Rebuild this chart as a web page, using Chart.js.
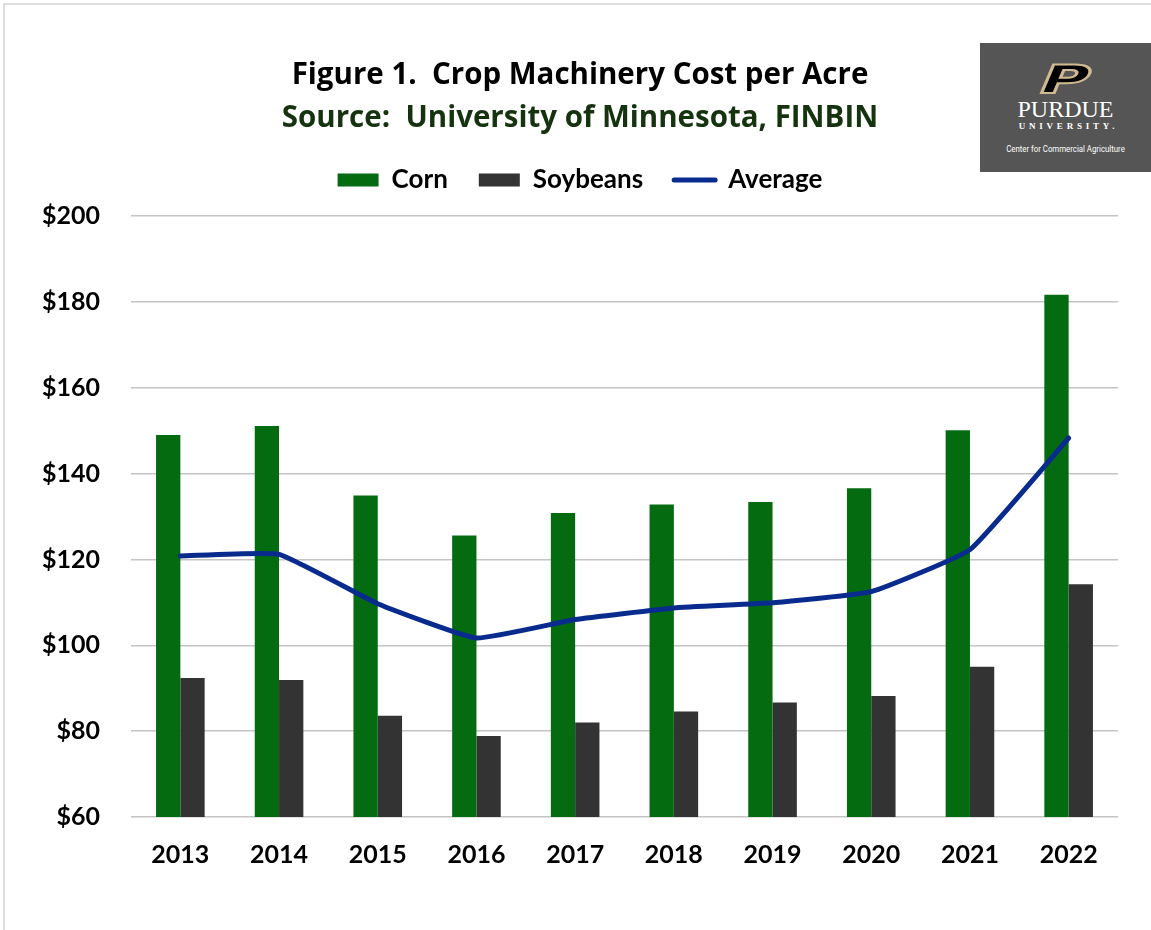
<!DOCTYPE html>
<html>
<head>
<meta charset="utf-8">
<script src="https://cdn.jsdelivr.net/npm/chart.js@4.4.1/dist/chart.umd.min.js"></script>
<style>
  html, body { margin: 0; padding: 0; background: #ffffff; }
  #wrap { position: relative; width: 1151px; height: 930px; overflow: hidden; background: #fff; }
  #frame { position: absolute; left: 3px; top: 3px; width: 1300px; height: 1100px;
           border-left: 2px solid #dedede; border-top: 2px solid #dedede; }
  #chart { position: absolute; left: 0; top: 0; }
  #logo { position: absolute; left: 980px; top: 43px; width: 171px; height: 129px; background: #555555; overflow: hidden; }
  #logo .p { position: absolute; left: 0; width: 171px; top: 17px; text-align: center;
             font-family: "DejaVu Sans", sans-serif; font-weight: bold; font-size: 39px; line-height: 39px;
             color: #000; -webkit-text-stroke: 2px #cfb991; transform: scaleX(1.7) skewX(-14deg); }
  #logo .pu { position: absolute; left: 0; width: 171px; top: 54px; text-align: center;
              font-family: "Liberation Serif", serif; font-size: 24px; line-height: 24px; color: #fff; }
  #logo .un { position: absolute; left: 3px; width: 171px; top: 78px; text-align: center;
              font-family: "Liberation Serif", serif; font-weight: bold; font-size: 9px; line-height: 10px;
              letter-spacing: 3.8px; color: #fff; }
  #logo .cc { position: absolute; left: 0; width: 171px; top: 101px; text-align: center;
              font-family: Roboto, sans-serif; font-size: 8.5px; line-height: 10px; color: #fff;
              transform: scaleX(0.92); }
</style>
</head>
<body>
<div id="wrap">
  <div id="frame"></div>
  <canvas id="chart" width="1151" height="930"></canvas>
  <div id="logo">
    <div class="p">P</div>
    <div class="pu">PURDUE</div>
    <div class="un">UNIVERSITY.</div>
    <div class="cc">Center for Commercial Agriculture</div>
  </div>
</div>
<script>
// ---- data ----
const years = ['2013', '2014', '2015', '2016', '2017', '2018', '2019', '2020', '2021', '2022'];
const corn = [149.0, 151.1, 134.9, 125.6, 130.8, 132.8, 133.4, 136.6, 150.1, 181.7];
const soybeans = [92.4, 91.9, 83.6, 78.9, 82.0, 84.6, 86.7, 88.2, 95.0, 114.2];
const average = [120.8, 121.2, 109.7, 101.7, 106.0, 108.7, 109.9, 112.5, 122.3, 148.3];
const yTicks = [60, 80, 100, 120, 140, 160, 180, 200];
const seriesNames = ['Corn', 'Soybeans', 'Average'];
const titleText = 'Figure 1.  Crop Machinery Cost per Acre';
const subtitleText = 'Source:  University of Minnesota, FINBIN';

// ---- styles ----
const cornColor = '#046b10';
const soyColor = '#333333';
const avgColor = '#0a2b8e';
const FONT = 'Lato';
const HEAD_FONT = 'Open Sans';

Chart.defaults.font.family = FONT;

const spacer = {
  id: 'spacer',
  beforeInit(chart) {
    Chart.layouts.addBox(chart, {
      position: 'top', weight: 0, fullSize: true, options: {},
      update(maxW) { this.width = maxW; this.height = 13; },
      isHorizontal() { return true; },
      getPadding() { return { left: 0, right: 0, top: 0, bottom: 0 }; },
      draw() {}
    });
  }
};

new Chart(document.getElementById('chart'), {
  type: 'bar',
  data: {
    labels: years,
    datasets: [
      { label: seriesNames[0], data: corn, backgroundColor: cornColor, borderWidth: 0, order: 1,
        categoryPercentage: 0.4924, barPercentage: 1.0 },
      { label: seriesNames[1], data: soybeans, backgroundColor: soyColor, borderWidth: 0, order: 1,
        categoryPercentage: 0.4924, barPercentage: 1.0 },
      { type: 'line', label: seriesNames[2], data: average, borderColor: avgColor, backgroundColor: avgColor,
        borderWidth: 5, pointRadius: 0, tension: 0.12, order: 0, borderCapStyle: 'round', borderJoinStyle: 'round' }
    ]
  },
  plugins: [spacer],
  options: {
    responsive: false,
    animation: false,
    devicePixelRatio: 1,
    layout: { padding: { left: 42, right: 33, top: 0, bottom: 0 } },
    plugins: {
      tooltip: { enabled: false },
      title: {
        display: true, text: titleText, color: '#000000',
        font: { family: HEAD_FONT, size: 29.5, weight: 'bold', lineHeight: 1.2 },
        padding: { top: 58.3, bottom: 0 }
      },
      subtitle: {
        display: true, text: subtitleText, color: '#15330f',
        font: { family: HEAD_FONT, size: 29.5, weight: 'bold', lineHeight: 1.2 },
        padding: { top: 7, bottom: 0 }
      },
      legend: {
        display: true, position: 'top', align: 'center',
        labels: {
          color: '#0f1a0f',
          font: { family: FONT, size: 26, weight: 'bold' },
          usePointStyle: true, pointStyleWidth: 41, boxHeight: 13,
          padding: 31,
          generateLabels: () => [
            { text: seriesNames[0], fillStyle: cornColor, strokeStyle: cornColor, lineWidth: 0, pointStyle: 'rect', datasetIndex: 0, hidden: false },
            { text: seriesNames[1], fillStyle: soyColor, strokeStyle: soyColor, lineWidth: 0, pointStyle: 'rect', datasetIndex: 1, hidden: false },
            { text: seriesNames[2], fillStyle: avgColor, strokeStyle: avgColor, lineWidth: 5, lineCap: 'round', pointStyle: 'line', datasetIndex: 2, hidden: false }
          ]
        }
      }
    },
    scales: {
      x: {
        offset: true,
        grid: { display: false, drawTicks: false },
        border: { display: false },
        ticks: { color: '#000', font: { family: FONT, size: 25, weight: 'bold' }, padding: 23 },
        afterFit(scale) { scale.height = 113; }
      },
      y: {
        min: 60, max: 200,
        afterBuildTicks(scale) { scale.ticks = yTicks.map(v => ({ value: v })); },
        grid: { color: '#c4c4c4', lineWidth: 1.6, drawTicks: false },
        border: { display: false },
        ticks: { color: '#000', font: { family: FONT, size: 25, weight: 'bold' }, padding: 31,
                 callback: v => '$' + v },
        afterFit(scale) { scale.width = 89; }
      }
    }
  }
});
</script>
</body>
</html>
